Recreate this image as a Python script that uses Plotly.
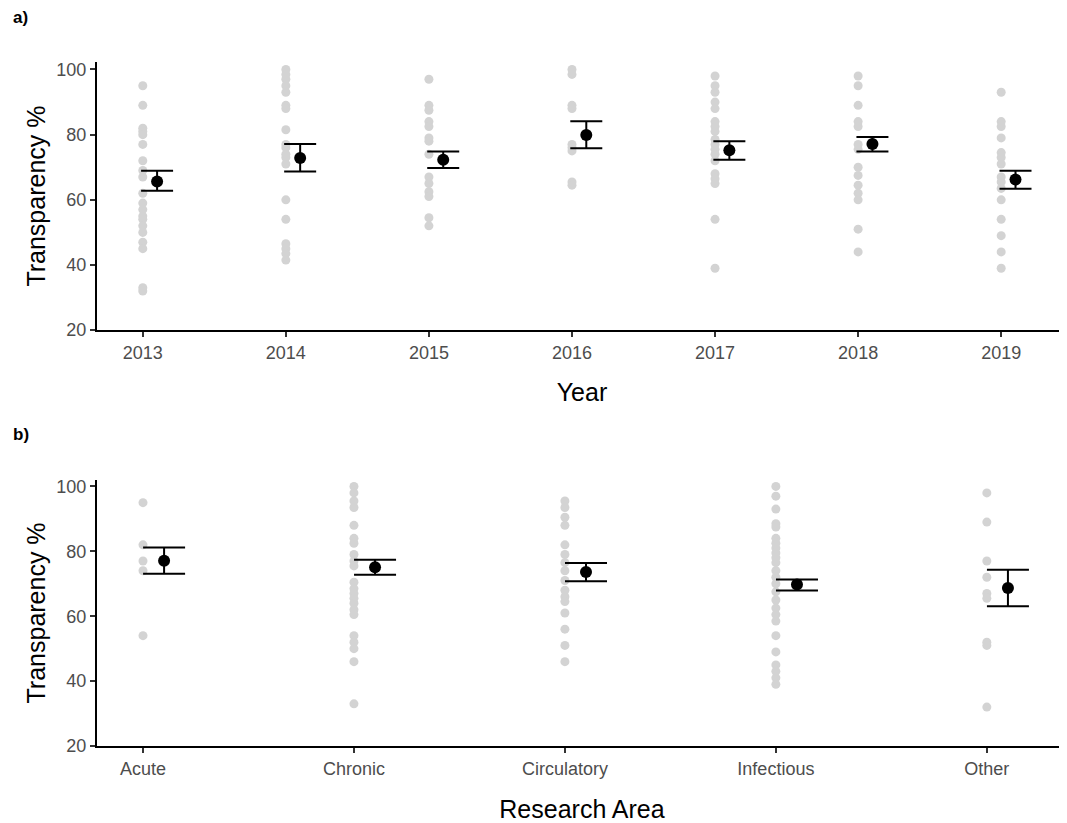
import plotly.graph_objects as go

# ---------------- Data ----------------
years = ["2013", "2014", "2015", "2016", "2017", "2018", "2019"]
year_points = [
    [95, 89, 82, 81, 80, 77, 72, 69, 67, 62, 59, 57, 55, 54, 52, 50, 47, 45, 33, 32],
    [100, 98.5, 97, 95, 93, 89, 88, 81.5, 77, 76, 74, 73, 71, 60, 54, 46.5, 45, 43.5, 41.5],
    [97, 89, 87.5, 84, 82.5, 79, 78, 74, 67, 65, 62.5, 61, 54.5, 52],
    [100, 98.5, 89, 88, 77, 76, 75, 65.5, 64.5],
    [98, 95, 93, 90, 88, 84, 82.5, 81, 78.5, 77, 75.5, 74, 72, 68, 66.5, 65, 54, 39],
    [98, 95, 89, 84, 82.5, 77, 75.5, 70, 67.5, 64.5, 62, 60, 51, 44],
    [93, 84, 82.5, 79, 74.5, 73, 71, 67, 65.5, 63.5, 60, 54, 49, 44, 39],
]
year_mean = [65.6, 72.8, 72.3, 79.9, 75.2, 77.1, 66.2]
year_upper = [68.9, 77.1, 74.8, 84.1, 78.0, 79.3, 68.9]
year_lower = [62.8, 68.7, 69.8, 75.8, 72.3, 74.8, 63.4]

areas = ["Acute", "Chronic", "Circulatory", "Infectious", "Other"]
area_points = [
    [95, 82, 77, 74, 54],
    [100, 98, 95.5, 93.5, 88, 84, 82.5, 79, 77, 75.5, 70.5, 68.5, 67, 65.5, 64, 62, 60.5, 54, 52, 50, 46, 33],
    [95.5, 93.5, 90.5, 88, 82, 79, 76.5, 74, 71, 68, 66, 64.5, 61, 56, 51, 46],
    [100, 97, 93, 88.5, 87.5, 84, 82.5, 81, 79.5, 78, 76.5, 74, 72, 70, 67.5, 65, 62.5, 60.5, 58.5, 54, 49, 45, 43, 41, 39],
    [98, 89, 77, 72, 67, 65.5, 52, 51, 32],
]
area_mean = [77.1, 75.1, 73.6, 69.8, 68.7]
area_upper = [81.2, 77.4, 76.4, 71.3, 74.3]
area_lower = [73.1, 72.8, 70.8, 67.9, 63.1]

POINT_GREY = "#d3d3d3"
DODGE = 0.1

fig = go.Figure()


def add_panel(cats, pts, means, upper, lower, xa, ya, capw):
    xs, ys = [], []
    for i, vals in enumerate(pts):
        xs += [i] * len(vals)
        ys += vals
    fig.add_trace(go.Scatter(
        x=xs, y=ys, mode="markers", xaxis=xa, yaxis=ya,
        marker=dict(color=POINT_GREY, size=9, line=dict(width=0)),
        showlegend=False, hoverinfo="y"))
    mx = [i + DODGE for i in range(len(cats))]
    fig.add_trace(go.Scatter(
        x=mx, y=means, mode="markers", xaxis=xa, yaxis=ya,
        marker=dict(color="black", size=12, line=dict(width=0)),
        error_y=dict(type="data", symmetric=False,
                     array=[u - m for u, m in zip(upper, means)],
                     arrayminus=[m - l for m, l in zip(means, lower)],
                     color="black", thickness=2, width=capw),
        showlegend=False, hoverinfo="y"))


add_panel(years, year_points, year_mean, year_upper, year_lower, "x", "y", 16)
add_panel(areas, area_points, area_mean, area_upper, area_lower, "x2", "y2", 21)

FONT = "Liberation Sans, Arial, sans-serif"
tickfont = dict(family=FONT, size=18, color="#4d4d4d")
titlefont = dict(family=FONT, size=25, color="black")

common_x = dict(showline=True, linecolor="black", linewidth=2, ticks="outside",
                ticklen=5, tickwidth=1.5, tickcolor="#333333", showgrid=False,
                zeroline=False, tickfont=tickfont, title_font=titlefont,
                automargin=False)
common_y = dict(showline=True, linecolor="black", linewidth=2, ticks="outside",
                ticklen=5, tickwidth=1.5, tickcolor="#333333", showgrid=False,
                zeroline=False, tickfont=tickfont, title_font=titlefont,
                automargin=False,
                tickvals=[20, 40, 60, 80, 100], ticktext=["20", "40", "60", "80", "100"])

# page body adds an 8px offset; figure sized so it fills the window
OFF = 8
W, H = 1067 - OFF, 823 - OFF
ML, MT, MB = 97 - OFF, 62 - OFF, 77

fig.update_layout(
    width=W, height=H,
    paper_bgcolor="white", plot_bgcolor="white",
    margin=dict(l=ML, r=0, t=MT, b=MB),
    font=dict(family=FONT),
    xaxis=dict(common_x, domain=[0, 1], anchor="y",
               tickvals=list(range(len(years))), ticktext=years,
               range=[-0.32, 6.46],
               title=dict(text="Year", standoff=22)),
    yaxis=dict(common_y, domain=[0.608, 1.0], anchor="x", range=[20, 102.3],
               title=dict(text="Transparency %", standoff=4)),
    xaxis2=dict(common_x, domain=[0, 1], anchor="y2",
                tickvals=list(range(len(areas))), ticktext=areas,
                range=[-0.218, 4.38],
                title=dict(text="Research Area", standoff=26)),
    yaxis2=dict(common_y, domain=[0.0, 0.389], anchor="x2", range=[20, 102],
                title=dict(text="Transparency %", standoff=4)),
)

plot_w = W - ML
plot_h = H - MT - MB
for label, (px, py) in [("<b>a)</b>", (20, 18)), ("<b>b)</b>", (21, 434))]:
    fig.add_annotation(
        text=label, xref="paper", yref="paper",
        x=(px - OFF - ML) / plot_w, y=(H - MB - (py - OFF)) / plot_h,
        xanchor="center", yanchor="middle", showarrow=False,
        font=dict(family=FONT, size=17, color="black"))

fig.write_html("out.html")
